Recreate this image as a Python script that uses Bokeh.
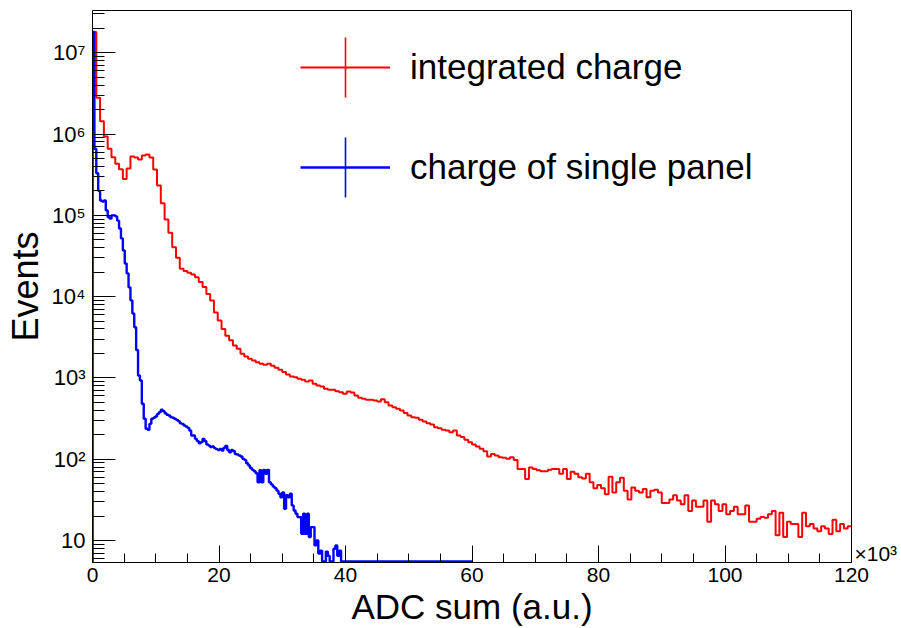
import numpy as np
from bokeh.plotting import figure
from bokeh.models import (FixedTicker, CustomJSTickFormatter, Legend, LegendItem,
                          BoxAnnotation, LogAxis)
from bokeh.embed import file_html
from bokeh.resources import INLINE

# ---------------- data ----------------
red_label = "integrated charge"
blue_label = "charge of single panel"
red_range = (0, 120000)   # 200 bins of 600
blue_range = (0, 60000)   # 200 bins of 300

red_counts = [
    1.8e7, 2.8e6, 1.44e6, 9.3e5, 6.6e5, 5.2e5, 4.3e5, 3.7e5, 2.8e5, 3.77e5,
    5.3e5, 5.15e5, 4.87e5, 5.45e5, 5.6e5, 5.15e5, 3.66e5, 2.33e5, 1.41e5, 8.9e4,
    6.1e4, 4.06e4, 3.0e4, 2.2e4, 2.06e4, 1.97e4, 1.87e4, 1.73e4, 1.51e4, 1.31e4,
    1.08e4, 8970, 6400, 5100, 4000, 3300, 2900, 2500, 2280,
    1980, 1840, 1720, 1640, 1560, 1490, 1450, 1490, 1410, 1330,
    1260, 1180, 1100, 1040, 1020, 975, 948, 904, 930, 847,
    807, 785, 735, 714, 714, 687, 667, 638, 681, 660,
    608, 569, 553, 538, 538, 527, 513, 547, 503, 458,
    437, 417, 398, 369, 345, 329, 323, 305, 291, 277,
    267, 248, 240, 230, 225, 215, 225, 196, 187, 173,
    162, 152, 143, 134, 125, 108, 116, 111, 106, 104,
    101, 106, 98, 76, 76, 57, 79, 76, 73, 71,
    71, 74, 76, 76, 66, 76, 57, 70, 66, 60,
    58, 66, 52, 44, 48, 44, 37, 61, 39, 52,
    59, 41, 32, 45, 41, 39, 43, 34, 41, 42,
    39, 29, 29, 32, 36, 31, 28, 36, 23, 31,
    26, 26, 31, 17, 31, 28, 23, 28, 21, 23,
    26, 21, 21, 27, 17, 17, 18.5, 19.4, 19, 21,
    23, 11.6, 22, 11, 17, 16, 16, 11, 22, 15,
    16, 14, 13, 15, 14, 12, 18, 13, 16, 14, 15,
][:200]

blue_counts = [
    1.8e7, 6.6e5, 3.3e5, 2.0e5, 1.52e5, 1.48e5, 1.52e5, 1.15e5, 9.5e4, 9.1e4,
    1.0e5, 1.0e5, 9.7e4, 8.6e4, 6.9e4, 5.2e4, 3.7e4, 2.56e4, 1.93e4, 1.3e4,
    9.0e3, 6.2e3, 4.2e3, 2.2e3, 1070, 930, 480, 314, 237, 230,
    272, 314, 323, 335, 361, 379, 405, 390, 368, 352,
    345, 329, 323, 314, 305, 294, 277, 272, 260, 253,
    243, 225, 196, 196, 178, 167, 157, 162, 178, 167,
    152, 147, 141, 143, 137, 133, 130, 134, 128, 138,
    146, 130, 122, 130, 126, 116, 114, 111, 108, 101,
    98, 89, 84, 78, 74, 71, 67, 52, 73, 52,
    74, 66, 74, 52, 49, 46, 44, 41, 37.5, 34,
    39, 24.5, 36, 34, 37.5, 27, 23.4, 21.3, 19.4, 19.4,
    12.1, 21.3, 12.1, 21.3, 11, 14.6, 14.6, 8.7, 10, 6.9,
    7.5, 0, 0, 7.3, 6.5, 0, 0, 7.9, 8.7, 6.5,
    7.5, 0,
] + [0] * 68

x_major = [0, 20000, 40000, 60000, 80000, 100000, 120000]
x_minor = [5000, 10000, 15000, 25000, 30000, 35000, 45000, 50000, 55000,
           65000, 70000, 75000, 85000, 90000, 95000, 105000, 110000, 115000]
y_major = [1e1, 1e2, 1e3, 1e4, 1e5, 1e6, 1e7]
y_minor = [m * d for d in [1, 10, 100, 1e3, 1e4, 1e5, 1e6, 1e7] for m in range(2, 10)]
x_multiplier = "\u00d710\u00b3"

YMIN, YMAX = 5.36, 3.31e7
FLOOR = YMIN * 1.03          # empty bins are drawn on the frame bottom
FONT = "Liberation Sans"
RED, BLUE = "#ff0000", "#0000ff"


def step_xy(counts, lo, hi):
    c = np.maximum(np.asarray(counts, float), FLOOR)
    edges = np.linspace(lo, hi, len(c) + 1)
    xs = np.concatenate([[edges[0]], np.repeat(edges, 2)[1:-1]])
    ys = np.concatenate([[YMIN], np.repeat(c, 2)])
    return xs, ys


p = figure(width=901, height=628, x_range=red_range, y_range=(YMIN, YMAX),
           y_axis_type="log", output_backend="svg", toolbar_location=None,
           min_border_left=92, min_border_right=50, min_border_top=10,
           min_border_bottom=66)
p.grid.visible = False
p.outline_line_color = "black"
p.outline_line_width = 1
p.background_fill_color = "white"
p.border_fill_color = "white"

rx, ry = step_xy(red_counts, *red_range)
bx, by = step_xy(blue_counts, *blue_range)
r_red = p.line(rx, ry, line_color=RED, line_width=2.0)
r_blue = p.line(bx, by, line_color=BLUE, line_width=2.4)

# axes
xa = p.xaxis[0]
xa.ticker = FixedTicker(ticks=x_major, minor_ticks=x_minor)
xa.formatter = CustomJSTickFormatter(code="return String(Math.round(tick/1000));")
xa.major_tick_in = 17
xa.major_tick_out = 0
xa.minor_tick_in = 9
xa.minor_tick_out = 0
xa.major_label_standoff = 5
xa.major_label_text_font = FONT
xa.major_label_text_font_size = "21px"
xa.major_label_text_color = "black"
xa.axis_label = "ADC sum (a.u.)"
xa.axis_label_text_font = FONT
xa.axis_label_text_font_size = "35px"
xa.axis_label_text_font_style = "normal"
xa.axis_label_text_color = "black"
xa.axis_label_standoff = 2
xa.axis_line_color = "black"

ya = p.yaxis[0]
ya.ticker = FixedTicker(ticks=y_major, minor_ticks=y_minor)
ya.formatter = CustomJSTickFormatter(code="""
const e = Math.round(Math.log10(tick));
if (e == 1) return "10";
const sup = ["\u2070","\u00b9","\u00b2","\u00b3","\u2074","\u2075","\u2076","\u2077","\u2078","\u2079"];
return "10" + String(e).split("").map(d => sup[+d]).join("");
""")
ya.major_tick_in = 23
ya.major_tick_out = 0
ya.minor_tick_in = 12
ya.minor_tick_out = 0
ya.major_label_standoff = 7
ya.major_label_text_font = FONT
ya.major_label_text_font_size = "22px"
ya.major_label_text_color = "black"
ya.axis_label = "Events"
ya.axis_label_text_font = FONT
ya.axis_label_text_font_size = "36px"
ya.axis_label_text_font_style = "normal"
ya.axis_label_text_color = "black"
ya.axis_label_standoff = 3
ya.axis_line_color = "black"

# x10^3 multiplier shown just right of the x-axis end (as a label-only right axis)
mult_y = YMIN * 10 ** (9 / 81.3)   # text centred ~9 px above the frame bottom
ra = LogAxis(ticker=FixedTicker(ticks=[mult_y], minor_ticks=[]),
             formatter=CustomJSTickFormatter(code="return '%s';" % x_multiplier),
             major_tick_in=0, major_tick_out=0, minor_tick_in=0, minor_tick_out=0,
             axis_line_alpha=0, major_label_standoff=3,
             major_label_text_font=FONT, major_label_text_font_size="21px",
             major_label_text_color="black")
p.add_layout(ra, "right")

# legend (ROOT style crosses: horizontal from the legend, vertical bar added)
LEG_X, LEG_Y, GW, GH, SP = 208, 365, 90, 60, 40
legend = Legend(items=[LegendItem(label=red_label, renderers=[r_red]),
                       LegendItem(label=blue_label, renderers=[r_blue])],
                location=(LEG_X, LEG_Y), glyph_width=GW, glyph_height=GH, label_standoff=20,
                spacing=SP, padding=0, margin=0, border_line_alpha=0,
                background_fill_alpha=0, label_text_font=FONT,
                label_text_font_size="35px", label_text_color="black")
p.add_layout(legend)
for i, col in enumerate([RED, BLUE]):
    bottom = LEG_Y + (1 - i) * (GH + SP)
    cx = LEG_X + GW / 2
    p.add_layout(BoxAnnotation(left=cx - 0.8, right=cx + 0.8, bottom=bottom, top=bottom + GH,
                               left_units="screen", right_units="screen",
                               bottom_units="screen", top_units="screen",
                               fill_color=col, fill_alpha=1, line_alpha=0))

open("out.html", "w").write(file_html(p, INLINE))
